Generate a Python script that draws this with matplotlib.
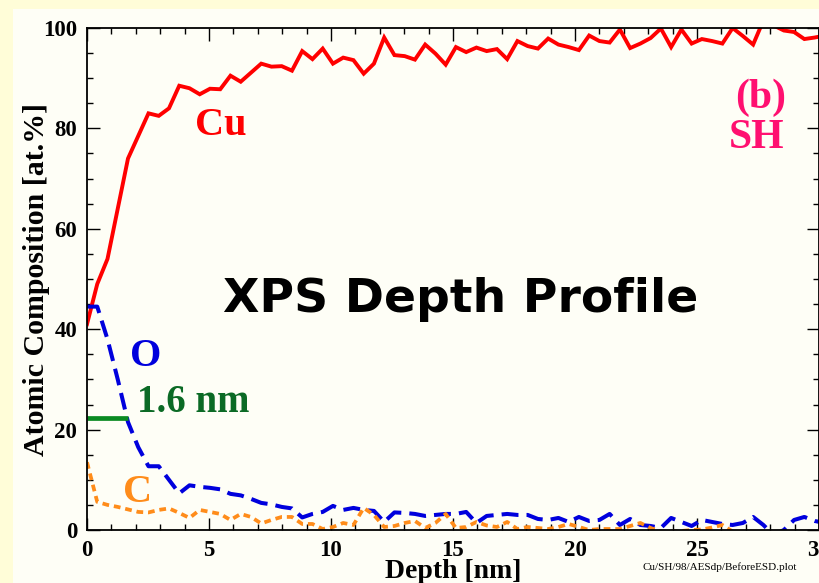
import numpy as np
import matplotlib
matplotlib.use("Agg")
import matplotlib.pyplot as plt
from matplotlib.patches import Rectangle
from matplotlib.ticker import MultipleLocator

# depth grid of the profile (nm), step 0.42
depth = np.round(np.arange(73) * 0.42, 2)

cu = [41, 49, 54, 64, 74, 78.5, 83, 82.5, 84, 88.5,
      88, 86.8, 87.9, 87.8, 90.5, 89.3, 91.1, 92.9, 92.3, 92.4,
      91.5, 95.4, 93.8, 95.9, 92.9, 94.1, 93.6, 90.9, 92.9, 98.1,
      94.6, 94.4, 93.7, 96.7, 94.9, 92.7, 96.2, 95.2, 96.1, 95.4,
      95.8, 93.8, 97.4, 96.4, 95.9, 97.9, 96.7, 96.2, 95.6, 98.5,
      97.4, 97.1, 99.7, 96.0, 96.9, 98.0, 99.9, 96.2, 99.7, 96.9,
      97.8, 97.4, 96.9, 100.0, 98.4, 96.7, 101.5, 100.5, 99.5, 99.2,
      97.8, 98.1, 98.5]

oxy = [44.5, 44.5, 38, 30, 21.5, 16.5, 12.7, 12.7, 10.0, 7.3,
       8.9, 8.6, 8.4, 8.1, 7.2, 6.9, 6.2, 5.4, 5.1, 4.6,
       4.3, 2.5, 3.2, 3.6, 4.8, 4.0, 4.4, 4.0, 3.8, 1.6,
       3.5, 3.4, 3.2, 2.8, 3.0, 3.2, 3.2, 3.6, 1.4, 2.8,
       3.0, 3.2, 3.0, 3.0, 2.2, 2.0, 2.4, 1.6, 2.6, 1.8,
       2.0, 3.2, 1.0, 2.2, 1.0, 0.8, 0.4, 2.4, 1.6, 0.8,
       2.0, 1.6, 1.2, 1.0, 1.4, 2.6, 1.0, -1.0, 0.0, 2.0,
       2.6, 1.8, 1.4]

carb = [13.5, 5.6, 5.0, 4.6, 4.1, 3.6, 3.5, 4.0, 4.3, 3.4,
        2.4, 4.0, 3.6, 3.2, 2.0, 3.2, 2.6, 1.3, 2.0, 2.6,
        2.6, 1.2, 1.2, 0.2, 0.6, 1.4, 1.0, 4.4, 3.0, 0.6,
        0.8, 1.4, 1.8, 0.4, 1.4, 3.2, 0.4, 0.6, 1.6, 0.9,
        0.6, 1.6, 0.2, 0.6, 0.4, 0.2, 0.6, 1.2, 0.6, 0.0,
        0.2, 0.2, 0.2, 0.8, 1.4, 0.4, -0.3, -0.3, -0.2, 0.0,
        0.1, 0.5, 1.0, -0.3, -0.5, -0.5, -0.5, -0.5, -0.5, -0.5,
        -0.5, -0.5, -0.5]

# 1.6 nm marker of the O half-height
mark_x = [0, 1.7]
mark_y = [22.3, 22.3]

serif = ["Liberation Serif", "DejaVu Serif"]

fig = plt.figure(figsize=(8.2, 5.83), dpi=100, facecolor="#FFFDD8")
bg = Rectangle((13 / 820, 0), 1, 1 - 9 / 583, transform=fig.transFigure,
               facecolor="#FEFEF6", edgecolor="none", zorder=-10)
fig.add_artist(bg)
ax = fig.add_axes([87 / 820, 53 / 583, 732 / 820, 502 / 583])
ax.set_facecolor("#FEFEF6")

ax.plot(depth, cu, color="#FF0000", lw=2.8, solid_joinstyle="miter")
ax.plot(depth, oxy, color="#0000DD", lw=2.9, dashes=(4.2, 2.0))
ax.plot(depth, carb, color="#FF8C1A", lw=2.7, dashes=(1.8, 1.3))
ax.plot(mark_x, mark_y, color="#0A8A22", lw=3.4, solid_capstyle="butt")

ax.set_xlim(0, 30)
ax.set_ylim(0, 100)
ax.xaxis.set_major_locator(MultipleLocator(5))
ax.xaxis.set_minor_locator(MultipleLocator(1))
ax.yaxis.set_major_locator(MultipleLocator(20))
ax.yaxis.set_minor_locator(MultipleLocator(5))
ax.tick_params(which="both", direction="in", top=True, right=True, width=1, color="black")
ax.tick_params(which="major", length=9, pad=7)
ax.tick_params(which="minor", length=4.5)
for lab in ax.get_xticklabels() + ax.get_yticklabels():
    lab.set_fontfamily(serif)
    lab.set_fontweight("bold")
    lab.set_fontsize(16.5)
for s in ax.spines.values():
    s.set_linewidth(1.3)

ax.set_xlabel("Depth [nm]", fontfamily=serif, fontweight="bold", fontsize=20, labelpad=-1)
ax.set_ylabel("Atomic Composition [at.%]", fontfamily=serif, fontweight="bold", fontsize=21.5,
              labelpad=-5)

ax.text(4.43, 78.6, "Cu", color="#FF0000", fontfamily=serif, fontweight="bold", fontsize=29)
ax.text(1.76, 32.7, "O", color="#0000DD", fontfamily=serif, fontweight="bold", fontsize=29)
ax.text(2.05, 23.5, "1.6 nm", color="#0B6A25", fontfamily=serif, fontweight="bold", fontsize=28)
ax.text(1.48, 5.6, "C", color="#FF8C1A", fontfamily=serif, fontweight="bold", fontsize=29)
ax.text(28.65, 84, "(b)", color="#FF1070", fontfamily=serif, fontweight="bold", fontsize=30, ha="right")
ax.text(28.6, 76, "SH", color="#FF1070", fontfamily=serif, fontweight="bold", fontsize=30, ha="right")
ax.text(15.3, 46, "XPS Depth Profile", color="black", fontfamily="DejaVu Sans",
        fontweight="bold", fontsize=34, ha="center", va="center")

fig.text(720 / 820, 1 - 567 / 583, "Cu/SH/98/AESdp/BeforeESD.plot", fontfamily=serif,
         fontsize=8, ha="center", va="center")

fig.savefig("out.png", dpi=100, facecolor=fig.get_facecolor())
